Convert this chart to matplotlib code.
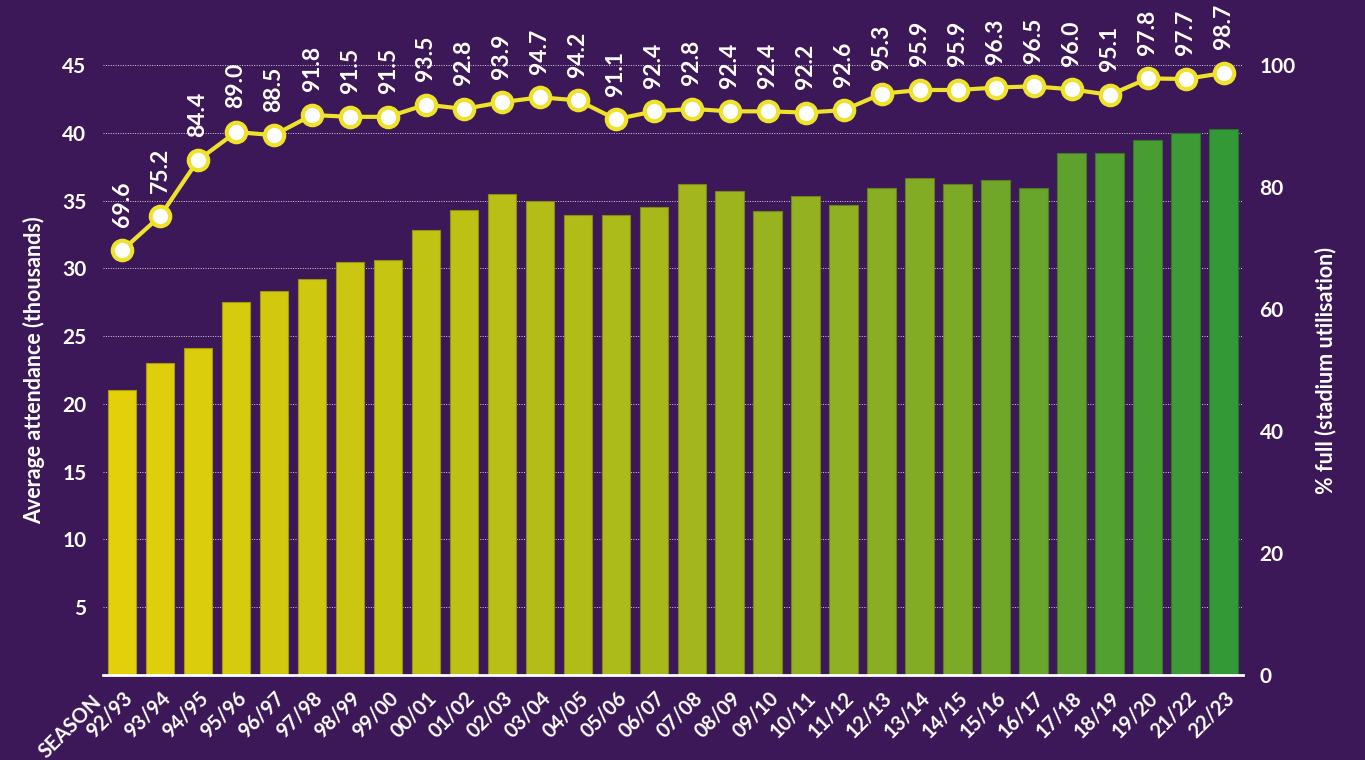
import numpy as np
import matplotlib.pyplot as plt
from matplotlib.colors import LinearSegmentedColormap

# Seasons and values
seasons = ['92/93', '93/94', '94/95', '95/96', '96/97', '97/98', '98/99', '99/00',
           '00/01', '01/02', '02/03', '03/04', '04/05', '05/06', '06/07', '07/08',
           '08/09', '09/10', '10/11', '11/12', '12/13', '13/14', '14/15', '15/16',
           '16/17', '17/18', '18/19', '19/20', '21/22', '22/23']
attendance = [21.0, 23.0, 24.1, 27.5, 28.3, 29.2, 30.5, 30.6, 32.8, 34.3,
              35.5, 35.0, 33.9, 33.9, 34.5, 36.2, 35.7, 34.2, 35.3, 34.7,
              35.9, 36.7, 36.2, 36.5, 35.9, 38.5, 38.5, 39.5, 40.0, 40.3]
pct_full = [69.6, 75.2, 84.4, 89.0, 88.5, 91.8, 91.5, 91.5, 93.5, 92.8,
            93.9, 94.7, 94.2, 91.1, 92.4, 92.8, 92.4, 92.4, 92.2, 92.6,
            95.3, 95.9, 95.9, 96.3, 96.5, 96.0, 95.1, 97.8, 97.7, 98.7]
left_ticks = [5, 10, 15, 20, 25, 30, 35, 40, 45]
right_ticks = [0, 20, 40, 60, 80, 100]

bg = '#3c1858'
plt.rcParams['font.family'] = ['Lato', 'DejaVu Sans']

fig = plt.figure(figsize=(13.65, 7.6), dpi=100, facecolor=bg)
ax = fig.add_axes([0.0755, 0.1118, 0.835, 0.8027])
ax.set_facecolor(bg)

x = np.arange(len(seasons))
cmap = LinearSegmentedColormap.from_list('yg', ['#e3d00a', '#c4c412', '#a6b71c', '#7fab26', '#339836'])
cols = cmap(x / (len(x) - 1))
edges = [tuple(c[:3] * 0.75) for c in cols]
ax.bar(x, attendance, width=0.76, color=cols, edgecolor=edges, linewidth=0.8, zorder=2)

ax.set_xlim(-0.5, len(x) - 0.5)
ax.set_ylim(0, 45)
ax.set_yticks(left_ticks)
ax.yaxis.grid(True, color='white', linestyle=(0, (1, 1.5)), linewidth=0.7, alpha=0.8, zorder=0)
ax.set_axisbelow(True)
for s in ['top', 'left', 'right']:
    ax.spines[s].set_visible(False)
ax.spines['bottom'].set_color('white')
ax.spines['bottom'].set_linewidth(2)
ax.tick_params(axis='y', length=0, colors='white', labelsize=15, pad=12)
ax.tick_params(axis='x', length=0, colors='white', labelsize=14.5, pad=9)
for lab in ax.get_yticklabels():
    lab.set_fontweight('bold')
ax.set_xticks(x)
ax.set_xticklabels(seasons, rotation=45, ha='right', rotation_mode='anchor', fontweight='bold')
ax.set_ylabel('Average attendance (thousands)', color='white', fontsize=15.5,
              fontweight='bold', labelpad=12)
ax.text(-0.8, -1.2, 'SEASON', rotation=45, ha='right', va='top', rotation_mode='anchor',
        color='white', fontsize=14.5, fontweight='bold', transform=ax.transData, clip_on=False)

ax2 = ax.twinx()
ax2.set_ylim(0, 100)
ax2.set_yticks(right_ticks)
for s in ['top', 'left', 'right', 'bottom']:
    ax2.spines[s].set_visible(False)
ax2.tick_params(axis='y', length=0, colors='white', labelsize=15, pad=12)
for lab in ax2.get_yticklabels():
    lab.set_fontweight('bold')
ax2.set_ylabel('% full (stadium utilisation)', color='white', fontsize=15.5,
               fontweight='bold', labelpad=14)
ax2.plot(x, pct_full, color='#f0e22a', linewidth=3, marker='o', markersize=14,
         markerfacecolor='white', markeredgecolor='#f0e22a', markeredgewidth=3,
         zorder=5, clip_on=False)
for xi, v in zip(x, pct_full):
    ax2.annotate(f'{v:.1f}', (xi, v), xytext=(0, 17), textcoords='offset points',
                 rotation=90, ha='center', va='bottom', color='white', fontsize=16.5,
                 fontweight='bold', annotation_clip=False)

fig.savefig('out.png', dpi=100, facecolor=bg)
